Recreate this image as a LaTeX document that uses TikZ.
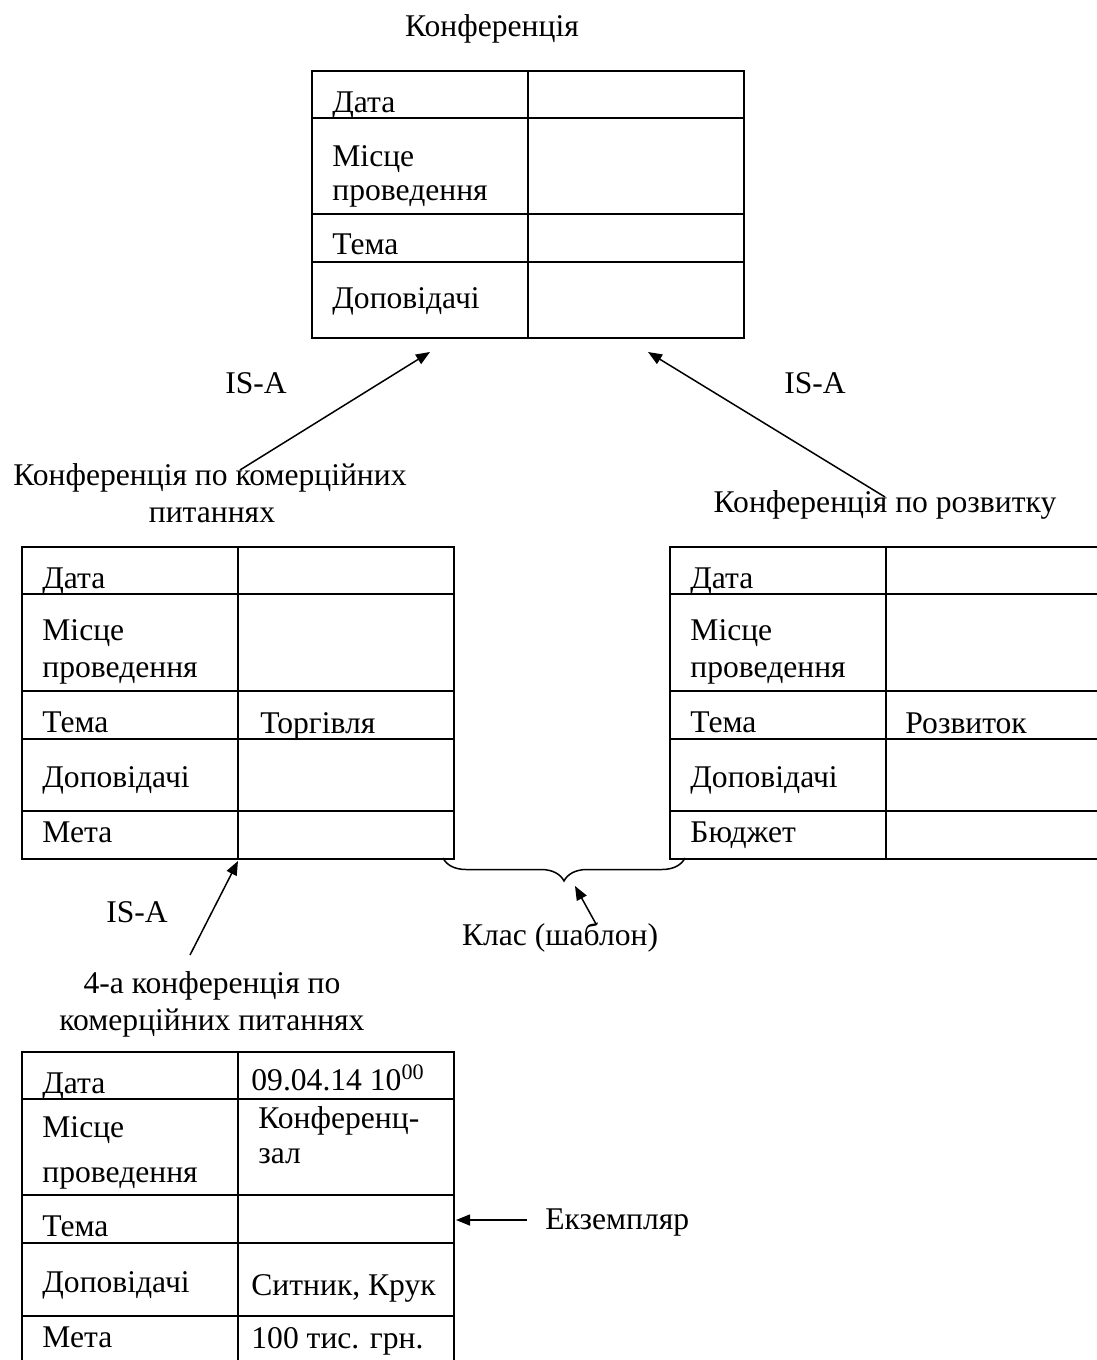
\documentclass[tikz,border=0pt]{standalone}
\usepackage{fontspec}
\setmainfont{Liberation Serif}
\usetikzlibrary{arrows.meta,decorations.pathreplacing}
\tikzset{>={Triangle[length=7pt,width=5.5pt]},
  grid/.style={line width=0.9pt},
  cell/.style={anchor=base west,inner sep=0pt,font=\fontsize{15.8}{19}\selectfont},
  lbl/.style={anchor=base,inner sep=0pt,font=\fontsize{15.8}{19}\selectfont},
  link/.style={->,line width=0.75pt}}

\begin{document}
\begin{tikzpicture}[x=0.5pt,y=-0.5pt]
  \clip (0,0) rectangle (1097,1360);
  % parent frame
  \node[lbl] (conf) at (492,36) {Конференція};
  \draw[grid] (312,71) rectangle (744,338);
  \draw[grid] (528,71) -- (528,338);
  \foreach \y in {118,214,262}
    \draw[grid] (312,\y) -- (744,\y);
  \node[cell] (cDate) at (332,112) {Дата};
  \node[cell] (cPlace) at (332,166) {Місце};
  \node[cell] (cPlace2) at (332,200) {проведення};
  \node[cell] (cTopic) at (332,254) {Тема};
  \node[cell] (cSpeak) at (332,308) {Доповідачі};

  \node[lbl] (isaL) at (256,393) {IS-A};
  \node[lbl] (isaR) at (815,393) {IS-A};
  \coordinate (confL) at (430,352);
  \coordinate (confR) at (648,352);

  % commercial frame
  \node[lbl] (comm) at (210,485) {Конференція по комерційних};
  \node[lbl] (comm2) at (212,522) {питаннях};
  \coordinate (commTop) at (240,470);
  \draw[grid] (22,547) rectangle (454,859);
  \draw[grid] (238,547) -- (238,859);
  \foreach \y in {594,691,739,811}
    \draw[grid] (22,\y) -- (454,\y);
  \node[cell] (mDate) at (42,588) {Дата};
  \node[cell] (mPlace) at (42,640) {Місце};
  \node[cell] (mPlace2) at (42,677) {проведення};
  \node[cell] (mTopic) at (42,732) {Тема};
  \node[cell] (mTopicV) at (260,733) {Торгівля};
  \node[cell] (mSpeak) at (42,787) {Доповідачі};
  \node[cell] (mGoal) at (42,842) {Мета};

  % development frame
  \node[lbl] (dev) at (885,512) {Конференція по розвитку};
  \coordinate (devTop) at (885,497);
  \draw[grid] (670,547) rectangle (1120,859);
  \draw[grid] (886,547) -- (886,859);
  \foreach \y in {594,691,739,811}
    \draw[grid] (670,\y) -- (1120,\y);
  \node[cell] (dDate) at (690,588) {Дата};
  \node[cell] (dPlace) at (690,640) {Місце};
  \node[cell] (dPlace2) at (690,677) {проведення};
  \node[cell] (dTopic) at (690,732) {Тема};
  \node[cell] (dTopicV) at (905,733) {Розвиток};
  \node[cell] (dSpeak) at (690,787) {Доповідачі};
  \node[cell] (dBudget) at (690,842) {Бюджет};

  \draw[link] (commTop) -- (confL);
  \draw[link] (devTop) -- (confR);

  % class brace
  \coordinate (brL) at (443,858);
  \coordinate (brR) at (685,858);
  \draw[line width=0.75pt,decorate,decoration={brace,mirror,amplitude=11.5pt}]
    (brL) -- (brR);
  \node[lbl] (cls) at (560,945) {Клас (шаблон)};
  \coordinate (clsTop) at (596,924);
  \coordinate (brTip) at (575,886);
  \draw[link] (clsTop) -- (brTip);

  % instance frame
  \node[lbl] (isaB) at (137,922) {IS-A};
  \coordinate (instTop) at (190,955);
  \coordinate (commBot) at (238,861);
  \draw[link] (instTop) -- (commBot);
  \node[lbl] (inst) at (212,993) {4-а конференція по};
  \node[lbl] (inst2) at (212,1030) {комерційних питаннях};
  \draw[grid] (22,1052) rectangle (454,1400);
  \draw[grid] (238,1052) -- (238,1400);
  \foreach \y in {1099,1195,1243,1316}
    \draw[grid] (22,\y) -- (454,\y);
  \node[cell] (iDate) at (42,1093) {Дата};
  \node[cell] (iPlace) at (42,1137) {Місце};
  \node[cell] (iPlace2) at (42,1182) {проведення};
  \node[cell] (iTopic) at (42,1236) {Тема};
  \node[cell] (iSpeak) at (42,1292) {Доповідачі};
  \node[cell] (iGoal) at (42,1347) {Мета};
  \node[cell] (iDateV) at (251,1090) {09.04.14 10\textsuperscript{00}};
  \node[cell] (iPlaceV) at (258,1128) {Конференц-};
  \node[cell] (iPlaceV2) at (258,1163) {зал};
  \node[cell] (iSpeakV) at (251,1295) {Ситник, Крук};
  \node[cell] (iGoalV) at (251,1348) {100 тис. грн.};

  \node[cell] (exmp) at (545,1229) {Екземпляр};
  \coordinate (exmpL) at (527,1220);
  \coordinate (instR) at (456,1220);
  \draw[link] (exmpL) -- (instR);
\end{tikzpicture}
\end{document}
